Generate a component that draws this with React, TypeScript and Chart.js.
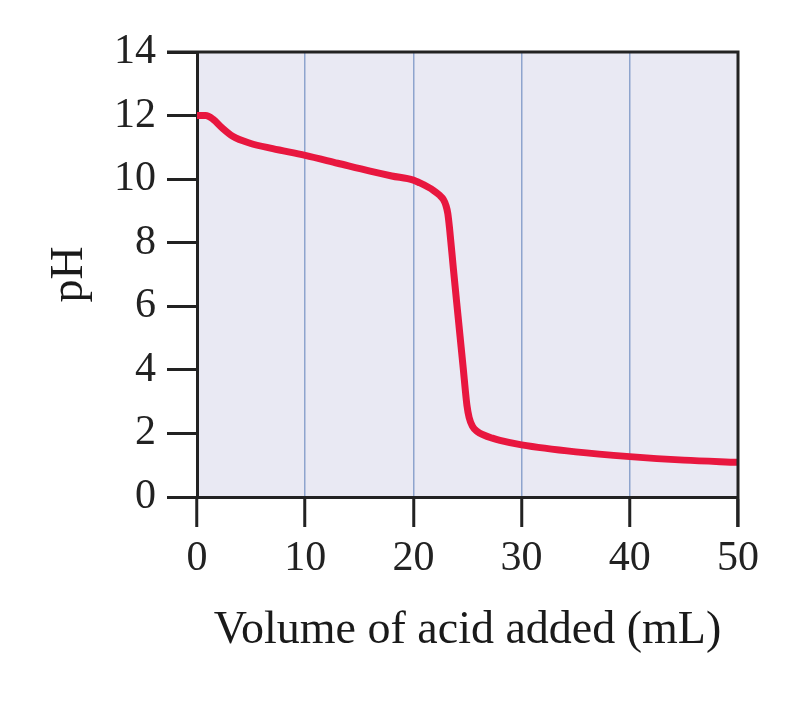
import React, { useEffect, useRef } from "react";
import { Chart, registerables } from "chart.js";

Chart.register(...registerables);

// volume of acid added (mL) and the pH
const volumes = [0, 0.8, 1.5, 2.3, 3.3, 4.9, 7, 10, 13, 16, 18, 20, 20.6, 21.3, 21.84, 22.4, 22.77, 23.0, 23.18, 23.35, 23.69, 24.0, 24.31, 24.62, 24.8, 24.95, 25.15, 25.45, 25.9, 26.5, 27.3, 28, 30, 35, 40, 45, 50];
const phValues = [12.0, 12.0, 11.88, 11.62, 11.35, 11.13, 10.96, 10.75, 10.5, 10.25, 10.1, 9.97, 9.88, 9.76, 9.65, 9.5, 9.36, 9.18, 8.92, 8.42, 7.2, 6.12, 5.06, 4.0, 3.35, 2.88, 2.5, 2.23, 2.06, 1.95, 1.85, 1.78, 1.64, 1.42, 1.27, 1.16, 1.09];
const xTicks = [0, 10, 20, 30, 40, 50];
const yTicks = [0, 2, 4, 6, 8, 10, 12, 14];

const plotBackground = {
  id: "plotBackground",
  beforeDraw(chart: Chart) {
    const { ctx, chartArea } = chart;
    ctx.save();
    ctx.fillStyle = "#e9e9f3";
    ctx.fillRect(chartArea.left, chartArea.top, chartArea.right - chartArea.left, chartArea.bottom - chartArea.top);
    ctx.restore();
  },
};

// top and right edges of the frame
const frame = {
  id: "frame",
  afterDraw(chart: Chart) {
    const { ctx, chartArea } = chart;
    ctx.save();
    ctx.strokeStyle = "#222";
    ctx.lineWidth = 3;
    ctx.beginPath();
    ctx.moveTo(chartArea.left - 30, chartArea.top);
    ctx.lineTo(chartArea.right, chartArea.top);
    ctx.lineTo(chartArea.right, chartArea.bottom + 30);
    ctx.stroke();
    ctx.restore();
  },
};

const App = () => {
  const chartRef = useRef<HTMLCanvasElement | null>(null);

  useEffect(() => {
    if (!chartRef.current) return;
    const ctx = chartRef.current.getContext("2d");
    if (!ctx) return;

    const myChart = new Chart(ctx, {
      type: "line",
      data: {
        datasets: [
          {
            data: volumes.map((v, i) => ({ x: v, y: phValues[i] })),
            borderColor: "#e8173f",
            borderWidth: 7,
            borderJoinStyle: "round",
            borderCapStyle: "round",
            pointRadius: 0,
            cubicInterpolationMode: "monotone",
            fill: false,
          },
        ],
      },
      plugins: [plotBackground, frame],
      options: {
        responsive: false,
        animation: false,
        layout: { padding: { top: 52, right: 61, left: 0, bottom: 0 } },
        plugins: {
          legend: { display: false },
          tooltip: { enabled: false },
        },
        scales: {
          x: {
            type: "linear",
            min: 0,
            max: 50,
            afterFit: (scale: any) => {
              scale.height = 230;
            },
            afterBuildTicks: (scale: any) => {
              scale.ticks = xTicks.map((v) => ({ value: v }));
            },
            grid: {
              color: "#8ea4cd",
              lineWidth: 1.5,
              tickColor: "#222",
              tickWidth: 3,
              tickLength: 30,
            },
            border: { color: "#222", width: 3 },
            ticks: {
              color: "#222",
              padding: 7,
              maxRotation: 0,
              font: { family: "Liberation Serif", size: 42 },
            },
            title: {
              display: true,
              text: "Volume of acid added (mL)",
              color: "#1a1a1a",
              font: { family: "Liberation Serif", size: 46 },
              padding: { top: 0, bottom: 68 },
            },
          },
          y: {
            min: 0,
            max: 14,
            afterFit: (scale: any) => {
              scale.width = 197;
            },
            afterBuildTicks: (scale: any) => {
              scale.ticks = yTicks.map((v) => ({ value: v }));
            },
            grid: {
              drawOnChartArea: false,
              tickColor: "#222",
              tickWidth: 3,
              tickLength: 30,
            },
            border: { color: "#222", width: 3 },
            ticks: {
              color: "#222",
              padding: 11,
              font: { family: "Liberation Serif", size: 42 },
            },
            title: {
              display: true,
              text: "pH",
              color: "#1a1a1a",
              font: { family: "Liberation Serif", size: 46 },
              padding: { top: 42, bottom: 0 },
            },
          },
        },
      },
    });

    return () => {
      myChart.destroy();
    };
  }, []);

  return (
    <div style={{ position: "absolute", left: 0, top: 0, width: 799, height: 727, background: "#fff" }}>
      <canvas ref={chartRef} width={799} height={727}></canvas>
    </div>
  );
};

export default App;
